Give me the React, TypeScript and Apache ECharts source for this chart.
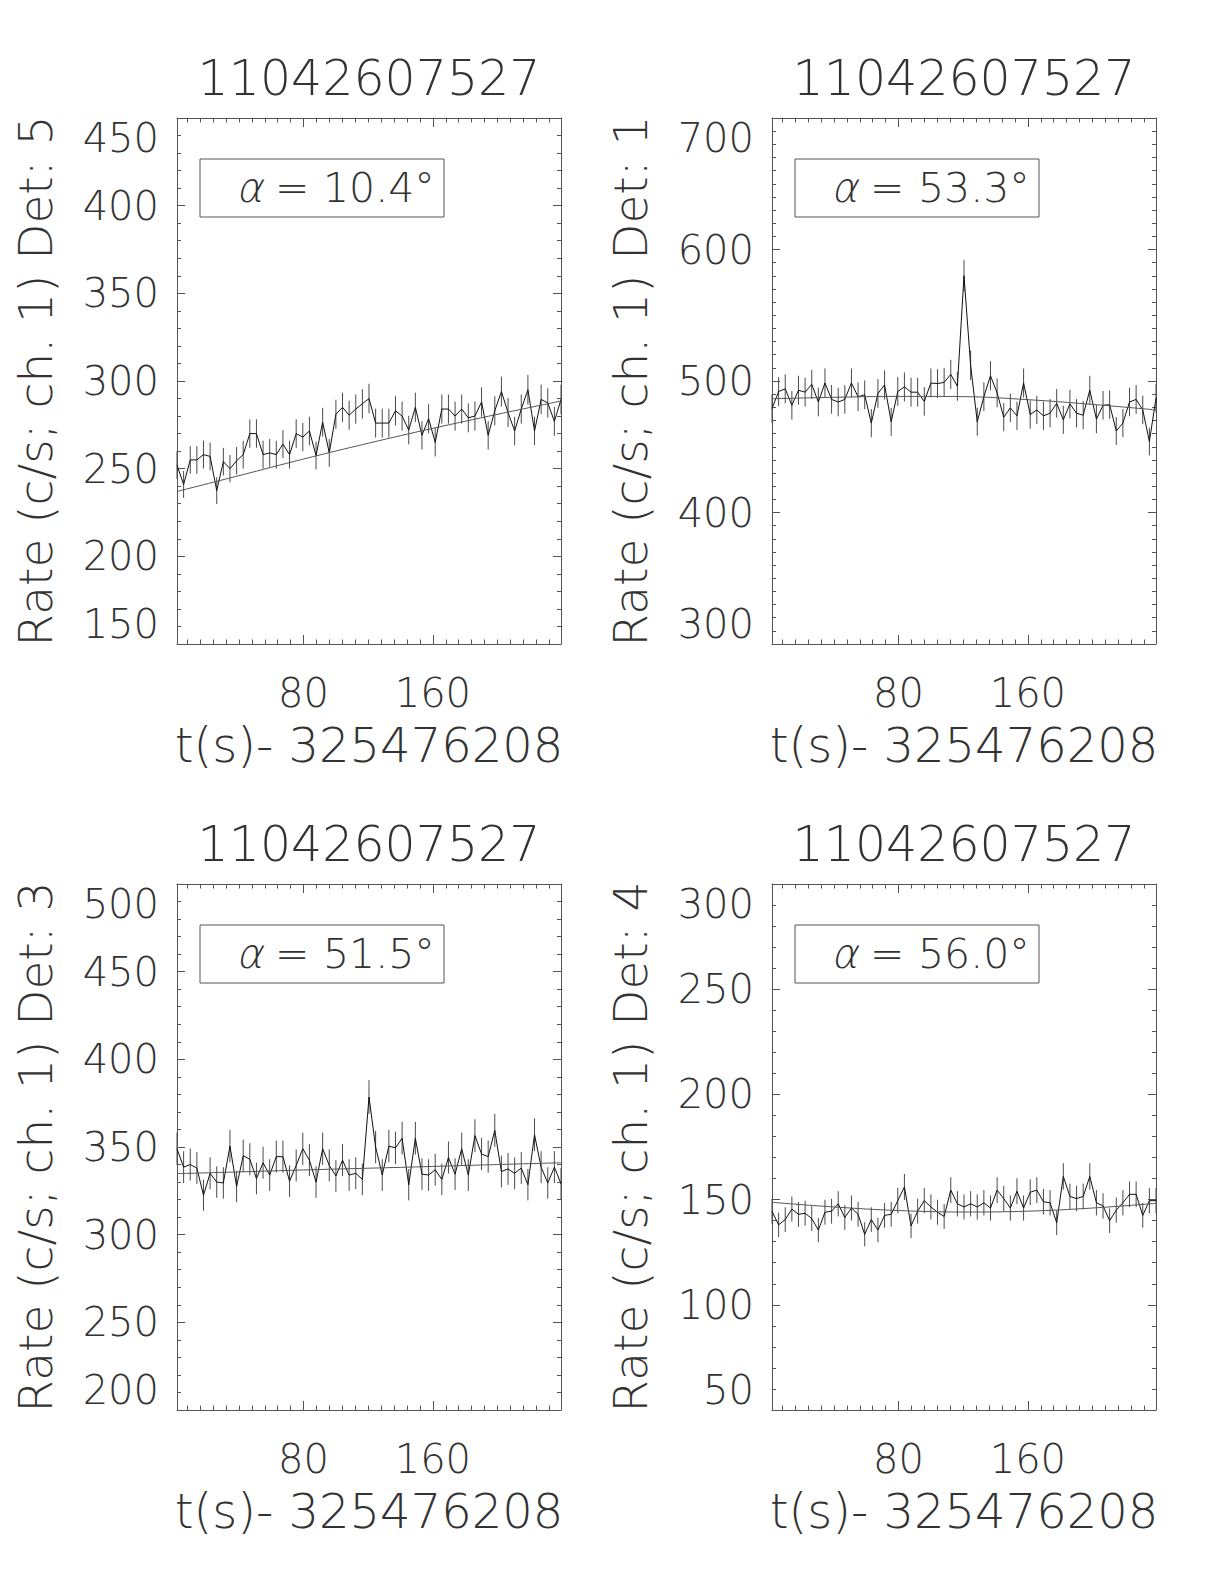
import React, { useEffect, useRef } from "react";
import * as echarts from "echarts";

// ---------- data ----------
const T0 = 1.7; // first bin time (s)
const DT = 4.096; // bin width (s)
const obsId = "11042607527";
const xAxisName = "t(s)- 325476208";
const xTickLabels = [80, 160];

const det5Rate = [
  252, 241, 255, 255, 258, 257, 237.5, 254, 250, 254.5, 258, 270, 270, 258, 259, 258, 264, 258, 270, 268,
  271.5, 257.5, 276.5, 259, 281, 285, 280.5, 284, 287, 290, 276, 276, 276, 283, 280, 272, 285, 269, 278.5,
  265, 284, 284, 280, 284, 279, 280, 288, 269, 283, 294, 282, 271.5, 284, 295, 271.5, 289.5, 287.5, 277, 289.5,
];
const det1Rate = [
  479, 492, 494, 481.5, 493, 491.5, 497.5, 484, 498.5, 486, 484, 486, 498.5, 488, 489.5, 468, 490.5, 497, 469,
  492, 495.5, 491.5, 491.5, 484.5, 498.5, 498, 499, 505, 496, 580, 512, 469, 488, 504, 491, 472.5, 479.5, 473.5,
  498.5, 474.5, 478, 473.5, 475.5, 483, 470.5, 482.5, 475.5, 474, 493, 471, 481.5, 482, 462, 468, 484, 486, 478,
  454, 487,
];
const det3Rate = [
  349, 338.5, 340, 338, 322.5, 335, 330, 329.5, 350.5, 327.5, 345, 343, 332, 341, 334, 344.5, 344.5, 330.5,
  339.5, 349, 342.5, 330, 349, 339.5, 333.5, 342.5, 334, 335, 331.5, 378.5, 350, 334, 350.5, 349.5, 355, 328.5,
  355, 334.5, 334, 337, 331.5, 344, 334.5, 349, 334, 356.5, 346, 344.5, 359.5, 336, 337.5, 335, 338, 328.5, 357,
  338.5, 329.5, 338.5, 329,
];
const det4Rate = [
  144.5, 138, 140.5, 145.5, 143, 143.5, 141, 135.5, 144, 144.5, 148, 141.5, 146, 143, 133.5, 140.5, 135.5, 142.5,
  143, 149.5, 156, 137.5, 144.5, 149.5, 146.5, 144, 142, 154.5, 148, 146.5, 148, 146.5, 148.5, 146, 154.5, 150.5,
  146, 154, 146, 153.5, 154.5, 149, 148.5, 139, 161, 151.5, 150.5, 151.5, 161, 148.5, 147, 140, 145, 148.5, 152.5,
  152.5, 142.5, 149.5, 149.5,
];

const fitTimes = [1.7, 40, 80, 120, 160, 200, 239.27];
const det5Fit = [237, 246, 255.5, 264.5, 273, 281, 288.6];
const det1Fit = [486.5, 487.6, 488.3, 488.1, 485.8, 482.2, 478];
const det3Fit = [334.8, 335.8, 336.9, 337.9, 338.9, 340, 341];
const det4Fit = [148.7, 146.5, 144.8, 144.1, 144.5, 146, 148.2];

const panels = [
  { det: 5, alpha: "10.4", rate: det5Rate, fit: det5Fit, yMin: 150, yMax: 450, yStep: 50, yMinorSplit: 5 },
  { det: 1, alpha: "53.3", rate: det1Rate, fit: det1Fit, yMin: 300, yMax: 700, yStep: 100, yMinorSplit: 10 },
  { det: 3, alpha: "51.5", rate: det3Rate, fit: det3Fit, yMin: 200, yMax: 500, yStep: 50, yMinorSplit: 5 },
  { det: 4, alpha: "56.0", rate: det4Rate, fit: det4Fit, yMin: 50, yMax: 300, yStep: 50, yMinorSplit: 5 },
];

// ---------- layout / style ----------
const layout = [
  { left: 177, top: 118 },
  { left: 772, top: 118 },
  { left: 177, top: 884 },
  { left: 772, top: 884 },
];
const PLOT_W = 384;
const PLOT_H = 526;
const FONT = "'DejaVu Sans', sans-serif";
const WEIGHT = 200;
const INK = "#333";
const FRAME = "#555";

function buildOption() {
  const grid: any[] = [];
  const xAxis: any[] = [];
  const yAxis: any[] = [];
  const series: any[] = [];
  const graphic: any[] = [];

  panels.forEach((p, g) => {
    const n = p.rate.length;
    const xMin = T0;
    const xMax = T0 + (n - 1) * DT;
    const minorX: number[] = [];
    for (let v = 8; v < xMax; v += 8) if (v > xMin) minorX.push(v);
    const L = layout[g];
    grid.push({ left: L.left, top: L.top, width: PLOT_W, height: PLOT_H });

    const lineStyle = { color: FRAME, width: 1 };
    const labelStyle = { fontSize: 40, fontFamily: FONT, fontWeight: WEIGHT, color: INK };
    const mkX = (position: string, major: boolean, withLabel: boolean) => ({
      type: "value",
      gridIndex: g,
      position,
      min: xMin,
      max: xMax,
      axisLine: { show: major, onZero: false, lineStyle },
      axisTick: { show: true, inside: true, length: major ? 9 : 4.5, customValues: major ? xTickLabels : minorX, lineStyle },
      axisLabel: { show: withLabel, customValues: xTickLabels, margin: 29, ...labelStyle },
      splitLine: { show: false },
      name: withLabel ? xAxisName : "",
      nameLocation: "middle",
      nameGap: 77,
      nameTextStyle: { fontSize: 48, fontFamily: FONT, fontWeight: WEIGHT, color: INK },
    });
    xAxis.push(mkX("bottom", true, true), mkX("bottom", false, false), mkX("top", true, false), mkX("top", false, false));

    const mkY = (position: string, withLabel: boolean) => ({
      type: "value",
      gridIndex: g,
      position,
      min: p.yMin,
      max: p.yMax,
      interval: p.yStep,
      axisLine: { show: true, onZero: false, lineStyle },
      axisTick: { show: true, inside: true, length: 8, lineStyle },
      minorTick: { show: true, splitNumber: p.yMinorSplit, length: 4, lineStyle },
      axisLabel: {
        show: withLabel,
        margin: 18,
        verticalAlignMinLabel: "bottom",
        verticalAlignMaxLabel: "top",
        ...labelStyle,
      },
      splitLine: { show: false },
      name: withLabel ? `Rate (c/s; ch. 1) Det: ${p.det}` : "",
      nameLocation: "middle",
      nameRotate: 90,
      nameGap: 118,
      nameTextStyle: { fontSize: 47, fontFamily: FONT, fontWeight: WEIGHT, color: INK },
    });
    yAxis.push(mkY("left", true), mkY("right", false));

    const xi = g * 4;
    const yi = g * 2;
    const pts = p.rate.map((v, i) => [T0 + i * DT, v, Math.sqrt(v * DT) / DT]);

    series.push({
      type: "custom",
      xAxisIndex: xi,
      yAxisIndex: yi,
      data: pts,
      encode: { x: 0, y: 1 },
      silent: true,
      renderItem: (params: any, api: any) => {
        const x = api.value(0);
        const y = api.value(1);
        const e = api.value(2);
        const a = api.coord([x, y - e]);
        const b = api.coord([x, y + e]);
        return {
          type: "line",
          shape: { x1: a[0], y1: a[1], x2: b[0], y2: b[1] },
          style: { stroke: "#4a4a4a", lineWidth: 1 },
        };
      },
    });
    series.push({
      type: "line",
      xAxisIndex: xi,
      yAxisIndex: yi,
      data: pts.map((d) => [d[0], d[1]]),
      showSymbol: false,
      symbol: "none",
      lineStyle: { color: "#111", width: 1 },
      silent: true,
    });
    series.push({
      type: "line",
      xAxisIndex: xi,
      yAxisIndex: yi,
      data: fitTimes.map((t, i) => [t, p.fit[i]]),
      showSymbol: false,
      symbol: "none",
      smooth: 0.4,
      lineStyle: { color: "#555", width: 1 },
      silent: true,
    });

    const cx = L.left + PLOT_W / 2;
    const txt = (text: string, x: number, y: number, size: number, align: string, extra: any = {}) => ({
      type: "text",
      x,
      y,
      ...extra,
      style: {
        text,
        align,
        verticalAlign: "middle",
        fontSize: size,
        fontFamily: FONT,
        fontWeight: WEIGHT,
        fill: INK,
      },
    });
    graphic.push(txt(obsId, cx, L.top - 40, 49, "center"));
    graphic.push({
      type: "rect",
      shape: { x: L.left + 23, y: L.top + 41, width: 244, height: 58 },
      style: { fill: "none", stroke: FRAME, lineWidth: 1 },
    });
    const ty = L.top + 70;
    graphic.push(txt("α", L.left + 62, ty, 41, "left", { skewX: -0.22 }));
    graphic.push(txt("=", L.left + 98, ty, 41, "left"));
    graphic.push(txt(`${p.alpha}°`, L.left + 146, ty, 41, "left"));
  });

  return {
    animation: false,
    backgroundColor: "#ffffff",
    grid,
    xAxis,
    yAxis,
    series,
    graphic,
  };
}

export default function App() {
  const ref = useRef<HTMLDivElement>(null);
  useEffect(() => {
    if (!ref.current) return;
    const chart = echarts.init(ref.current, undefined, { renderer: "svg" });
    chart.setOption(buildOption() as any);
    return () => chart.dispose();
  }, []);
  return (
    <div
      ref={ref}
      style={{ position: "absolute", left: 0, top: 0, width: 1224, height: 1584, background: "#fff" }}
    />
  );
}
